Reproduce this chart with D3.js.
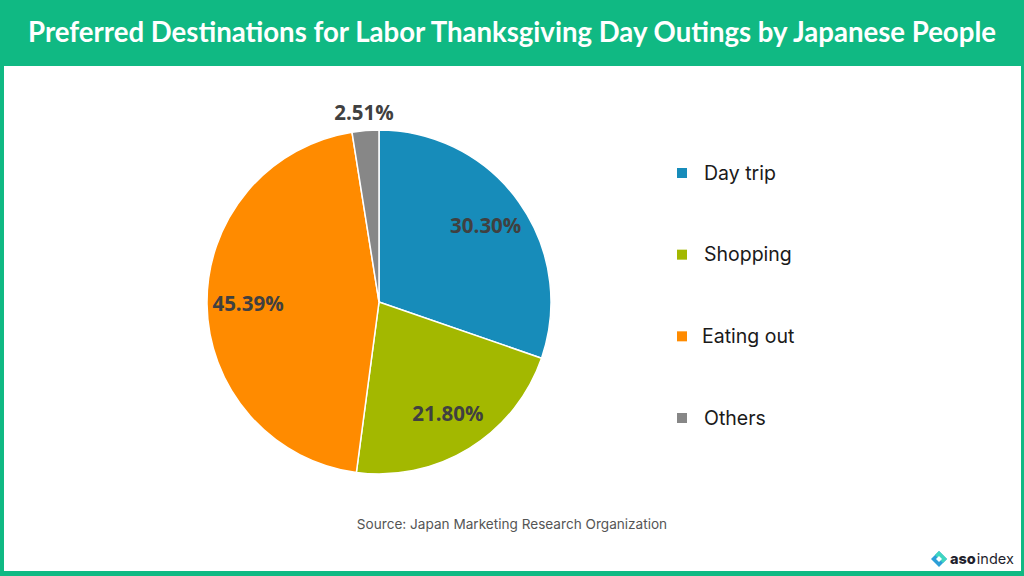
<!DOCTYPE html>
<html><head><meta charset="utf-8">
<script src="https://cdn.jsdelivr.net/npm/d3@7/dist/d3.min.js"></script>
<style>html,body{margin:0;padding:0;background:#fff;}svg{display:block;}</style>
</head><body>
<script>
const categories = ["Day trip", "Shopping", "Eating out", "Others"];
const values = [30.30, 21.80, 45.39, 2.51];
const labels = ["30.30%", "21.80%", "45.39%", "2.51%"];
const colors = ["#178cba", "#a3b800", "#ff8b00", "#878787"];
const title = "Preferred Destinations for Labor Thanksgiving Day Outings by Japanese People";
const source = "Source: Japan Marketing Research Organization";

const W = 1024, H = 576;
const svg = d3.select("body").append("svg").attr("width", W).attr("height", H);
const green = "#10b983";
svg.append("rect").attr("width", W).attr("height", H).attr("fill", green);
svg.append("rect").attr("x", 4).attr("y", 66).attr("width", W - 7).attr("height", H - 66 - 5).attr("fill", "#fff");

const t = svg.append("text").attr("x", W / 2).attr("y", 42).attr("text-anchor", "middle")
  .attr("fill", "#fff").attr("font-family", "Lato, 'Open Sans', sans-serif").attr("font-weight", 700)
  .attr("font-size", 22).text(title);
const tw = t.node().getComputedTextLength();
t.attr("font-size", 22 * 968 / tw);

const cx = 379, cy = 302, R = 172;
const g = svg.append("g").attr("transform", `translate(${cx},${cy})`);
const pie = d3.pie().sort(null).value(d => d.v);
const data = pie(values.map((v, i) => ({ v, i })));
const arc = d3.arc().innerRadius(0).outerRadius(R);
g.selectAll("path").data(data).join("path").attr("d", arc)
  .attr("fill", d => colors[d.data.i]).attr("stroke", "#fff").attr("stroke-width", 1.5);

const labelArc = d3.arc().innerRadius(131).outerRadius(131);
g.selectAll("text.lbl").data(data).join("text").attr("class", "lbl")
  .attr("transform", d => {
    if (d.data.i === 3) { const a = (d.startAngle + d.endAngle) / 2; return `translate(${Math.sin(a) * 190},${-Math.cos(a) * 190})`; }
    const [x, y] = labelArc.centroid(d); return `translate(${x},${y})`;
  })
  .attr("text-anchor", "middle").attr("dy", "0.36em")
  .attr("font-family", "'Open Sans', sans-serif").attr("font-weight", 700).attr("font-size", 20.5)
  .attr("fill", "#404040").text(d => labels[d.data.i]);

const leg = svg.append("g");
const ly = d3.scalePoint().domain(categories).range([173, 418]);
categories.forEach((c, i) => {
  leg.append("rect").attr("x", 677).attr("y", ly(c) - 5).attr("width", 10).attr("height", 10).attr("fill", colors[i]);
  leg.append("text").attr("x", i === 2 ? 702 : 704).attr("y", ly(c)).attr("dy", "0.35em")
    .attr("font-family", "Inter, 'Open Sans', sans-serif").attr("font-size", 19.5).attr("fill", "#1a1a1a").text(c);
});

svg.append("text").attr("x", 512).attr("y", 529).attr("text-anchor", "middle")
  .attr("font-family", "Inter, 'Open Sans', sans-serif").attr("font-size", 13.6).attr("fill", "#555").text(source);

// logo
const lg = svg.append("g").attr("transform", "translate(939,559)");
lg.append("path").attr("d", "M0,-8 L8,0 L0,8 L-8,0 Z").attr("fill", "#2d9fd8");
lg.append("path").attr("d", "M0,-8 L8,0 L4,4 L-4,-4 Z").attr("fill", "#3fd6c0");
lg.append("path").attr("d", "M0,-3 L3,0 L0,3 L-3,0 Z").attr("fill", "#fff");
const lt = svg.append("text").attr("x", 950).attr("y", 564).attr("font-family", "Inter, sans-serif").attr("font-size", 14.5).attr("fill", "#1f1f2e");
lt.append("tspan").attr("font-weight", 800).text("aso");
lt.append("tspan").attr("font-weight", 400).attr("dx", 1).text("index");
</script>
</body></html>
